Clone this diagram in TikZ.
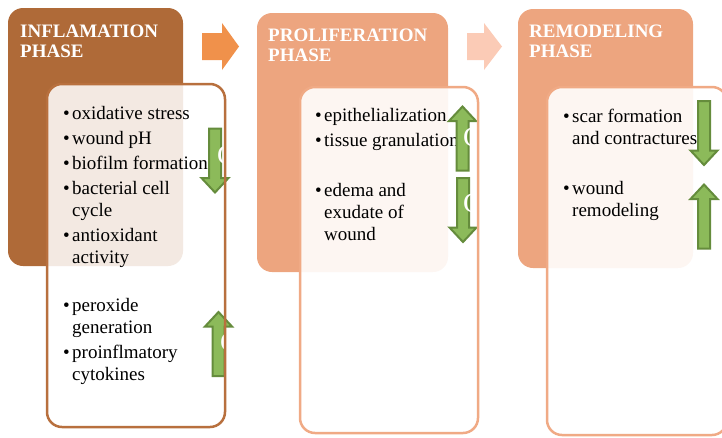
\documentclass[tikz,border=0pt]{standalone}
\usepackage{fontspec}
\setmainfont{Liberation Serif}
\usetikzlibrary{positioning}

\definecolor{inflbrown}{RGB}{175,106,56}
\definecolor{inflline}{RGB}{184,112,62}
\definecolor{phasepeach}{RGB}{237,165,127}
\definecolor{peachline}{RGB}{240,170,133}
\definecolor{stepone}{RGB}{240,145,75}
\definecolor{steptwo}{RGB}{251,203,182}
\definecolor{leafgreen}{RGB}{140,186,90}
\definecolor{leafdark}{RGB}{101,140,60}

\begin{document}
\begin{tikzpicture}[x=1pt, y=-1pt,
  headbox/.style={rounded corners=15pt, anchor=north west, inner sep=0pt, outer sep=0pt},
  textbox/.style={rounded corners=15pt, anchor=north west, inner sep=0pt, outer sep=0pt, fill=white, fill opacity=0.86},
  boxline/.style={line width=2.5pt, rounded corners=15pt},
  phasetitle/.style={anchor=base west, inner sep=0pt, text=white, font=\bfseries\fontsize{19}{20}\selectfont},
  entry/.style={anchor=base west, inner sep=0pt, font=\fontsize{19}{22}\selectfont},
  hidden/.style={anchor=west, inner sep=0pt, text=white, font=\fontsize{28}{28}\selectfont},
  greenarrow/.style={fill=leafgreen, draw=leafdark, line width=2pt},
  vup/.pic={\draw[greenarrow] (-6,32.5) -- (-6,-17) -- (-13.5,-17) -- (0,-31.5) -- (13.5,-17) -- (6,-17) -- (6,32.5) -- cycle;}
]
\useasboundingbox (0,0) rectangle (722,437);

% inflamation
\node[headbox, fill=inflbrown, minimum width=175, minimum height=258] (inflhead) at (8,8) {};
\node[phasetitle] (infltitle) at (20,37.5) {\begin{tabular}[t]{@{}l@{}}INFLAMATION\\PHASE\end{tabular}};
\node[textbox, minimum width=178, minimum height=343] (inflbox) at (47,84) {};
\node[entry] (oxid) at (63,119) {\makebox[9pt][l]{\textbullet}oxidative stress};
\node[entry] (ph) at ([yshift=-25pt]oxid.base west) {\makebox[9pt][l]{\textbullet}wound pH};
\node[entry] (biof) at ([yshift=-25pt]ph.base west) {\makebox[9pt][l]{\textbullet}biofilm formation};
\node[entry] (bact) at ([yshift=-25pt]biof.base west) {\begin{tabular}[t]{@{}p{9pt}@{}l@{}}\textbullet&bacterial cell\\&cycle\end{tabular}};
\node[entry] (antiox) at ([yshift=-47pt]bact.base west) {\begin{tabular}[t]{@{}p{9pt}@{}l@{}}\textbullet&antioxidant\\&activity\end{tabular}};
\node[entry] (perox) at ([yshift=-70pt]antiox.base west) {\begin{tabular}[t]{@{}p{9pt}@{}l@{}}\textbullet&peroxide\\&generation\end{tabular}};
\node[entry] (proinf) at ([yshift=-47pt]perox.base west) {\begin{tabular}[t]{@{}p{9pt}@{}l@{}}\textbullet&proinflmatory\\&cytokines\end{tabular}};
\pic[rotate=180] at (215,161) {vup};
\pic at (218.5,343.5) {vup};
\node[hidden] (c1) at (217,155) {C};
\node[hidden] (c2) at (220,342) {C};
\draw[boxline, inflline] (inflbox.north west) rectangle (inflbox.south east);

\fill[stepone] (202,33) -- (222,33) -- (222,23) -- (239,46.5) -- (222,70) -- (222,60) -- (202,60) -- cycle;

% proliferation
\node[headbox, fill=phasepeach, minimum width=191, minimum height=259] (prolhead) at (257,13) {};
\node[phasetitle] (proltitle) at (268,41.5) {\begin{tabular}[t]{@{}l@{}}PROLIFERATION\\PHASE\end{tabular}};
\node[textbox, fill opacity=0.9, minimum width=178, minimum height=346] (prolbox) at (300,87) {};
\node[entry] (epith) at (315,121) {\makebox[9pt][l]{\textbullet}epithelialization};
\node[entry] (gran) at ([yshift=-25pt]epith.base west) {\makebox[9pt][l]{\textbullet}tissue granulation};
\node[entry] (edema) at ([yshift=-50pt]gran.base west) {\begin{tabular}[t]{@{}p{9pt}@{}l@{}}\textbullet&edema and\\&exudate of\\&wound\end{tabular}};
\pic at (462.5,138) {vup};
\pic[rotate=180] at (463,210.5) {vup};
\node[hidden] (c3) at (463,137) {C};
\node[hidden] (c4) at (463,203) {C};
\draw[boxline, peachline] (prolbox.north west) rectangle (prolbox.south east);

\fill[steptwo] (467,33) -- (484,33) -- (484,23) -- (502,46.5) -- (484,70) -- (484,60) -- (467,60) -- cycle;

% remodeling
\node[headbox, fill=phasepeach, minimum width=175, minimum height=259] (remhead) at (518,9) {};
\node[phasetitle] (remtitle) at (529,37.5) {\begin{tabular}[t]{@{}l@{}}REMODELING\\PHASE\end{tabular}};
\node[textbox, fill opacity=0.9, minimum width=180, minimum height=348] (rembox) at (547,87) {};
\node[entry] (scar) at (563,122) {\begin{tabular}[t]{@{}p{9pt}@{}l@{}}\textbullet&scar formation\\&and contractures\end{tabular}};
\node[entry] (remod) at ([yshift=-72pt]scar.base west) {\begin{tabular}[t]{@{}p{9pt}@{}l@{}}\textbullet&wound\\&remodeling\end{tabular}};
\pic[rotate=180] at (704,133.5) {vup};
\pic at (704,216) {vup};
\node[hidden] (c5) at (711,122) {C};
\node[hidden] (c6) at (711,222) {C};
\draw[boxline, peachline] (rembox.north west) rectangle (rembox.south east);
\end{tikzpicture}
\end{document}
